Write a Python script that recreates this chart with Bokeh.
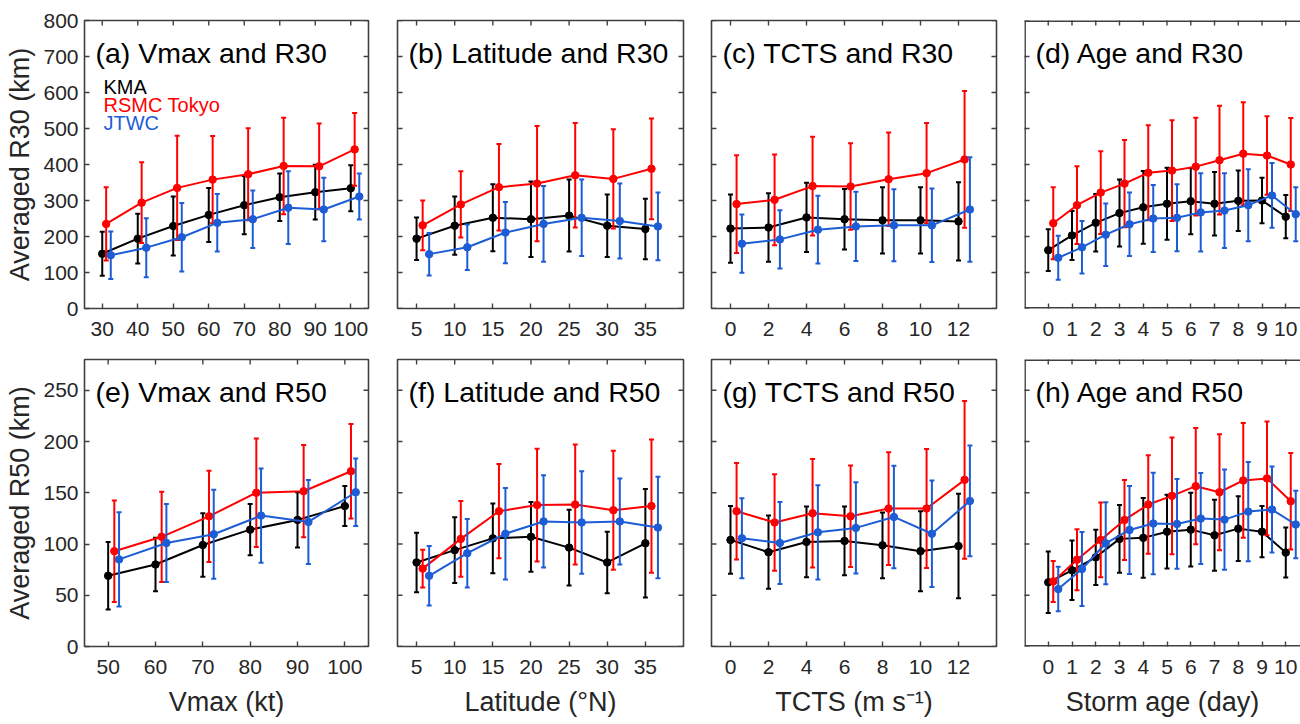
import math
from bokeh.plotting import figure
from bokeh.models import FixedTicker, Label, Range1d, Span
from bokeh.layouts import column, row
from bokeh.embed import file_html
from bokeh.resources import INLINE

# ---------------- data (mean and standard deviation, km) ----------------
series_names = ["KMA", "RSMC Tokyo", "JTWC"]

vmax30_x = [30, 40, 50, 60, 70, 80, 90, 100]
vmax30_kma = [152, 194, 229, 260, 287, 309, 323, 334]
vmax30_kma_sd = [61, 69, 82, 75, 81, 66, 76, 64]
vmax30_rsmc = [235, 294, 335, 358, 373, 396, 395, 442]
vmax30_rsmc_sd = [102, 112, 145, 121, 128, 134, 119, 101]
vmax30_jtwc = [148, 169, 198, 238, 248, 280, 275, 311]
vmax30_jtwc_sd = [66, 82, 95, 80, 80, 101, 88, 64]

lat30_x = [5, 10, 15, 20, 25, 30, 35]
lat30_kma = [194, 230, 252, 248, 258, 230, 221]
lat30_kma_sd = [59, 81, 93, 105, 100, 87, 84]
lat30_rsmc = [231, 289, 337, 347, 370, 360, 388]
lat30_rsmc_sd = [69, 92, 120, 160, 145, 138, 140]
lat30_jtwc = [151, 170, 211, 235, 252, 243, 228]
lat30_jtwc_sd = [59, 63, 85, 105, 106, 104, 94]

tcts30_x = [0, 2, 4, 6, 8, 10, 12]
tcts30_kma = [222, 225, 253, 248, 245, 245, 242]
tcts30_kma_sd = [95, 95, 96, 84, 92, 92, 109]
tcts30_rsmc = [290, 302, 340, 339, 359, 376, 414]
tcts30_rsmc_sd = [136, 126, 137, 120, 130, 139, 190]
tcts30_jtwc = [180, 192, 219, 228, 231, 231, 275]
tcts30_jtwc_sd = [81, 81, 94, 96, 100, 102, 145]

age30_x = [0, 1, 2, 3, 4, 5, 6, 7, 8, 9, 10]
age30_kma = [162, 203, 238, 265, 281, 291, 298, 291, 299, 300, 255]
age30_kma_sd = [58, 68, 80, 93, 101, 100, 92, 88, 84, 63, 60]
age30_rsmc = [237, 287, 322, 347, 377, 383, 394, 412, 430, 425, 400]
age30_rsmc_sd = [100, 108, 115, 121, 132, 140, 136, 151, 143, 109, 129]
age30_jtwc = [141, 170, 205, 234, 250, 252, 267, 272, 287, 314, 262]
age30_jtwc_sd = [61, 73, 87, 88, 93, 93, 109, 104, 100, 90, 75]

vmax50_x = [50, 60, 70, 80, 90, 100]
vmax50_kma = [69, 80, 99, 114, 123.5, 137]
vmax50_kma_sd = [33, 26, 31, 25, 27, 19.5]
vmax50_rsmc = [93, 107, 127, 150, 151.5, 171]
vmax50_rsmc_sd = [49.5, 44, 44.5, 53, 45, 46]
vmax50_jtwc = [85, 101, 109.5, 127.7, 121.5, 150.5]
vmax50_jtwc_sd = [46, 38, 43.5, 46, 41, 33]

lat50_x = [5, 10, 15, 20, 25, 30, 35]
lat50_kma = [82, 94, 105.5, 107, 96.5, 82, 100.7]
lat50_kma_sd = [29, 32, 34, 34, 37, 30, 53]
lat50_rsmc = [76, 105, 132, 138, 138.5, 133, 137]
lat50_rsmc_sd = [18.5, 37, 46, 55, 58.5, 58, 65]
lat50_jtwc = [69, 91, 110, 122, 121, 122, 116]
lat50_jtwc_sd = [29, 33.5, 44.7, 45, 50, 42, 49.5]

tcts50_x = [0, 2, 4, 6, 8, 10, 12]
tcts50_kma = [104, 92, 102, 103, 98.7, 93, 98]
tcts50_kma_sd = [33, 35.7, 34.5, 33.5, 32, 39, 51]
tcts50_rsmc = [132, 121, 130, 127, 134.6, 134.6, 162.6]
tcts50_rsmc_sd = [47, 47, 53, 49.5, 55, 58, 77]
tcts50_jtwc = [105.6, 101, 111.4, 115.7, 126.4, 110, 142]
tcts50_jtwc_sd = [39, 40, 46, 44.6, 50, 52, 54]

age50_x = [0, 1, 2, 3, 4, 5, 6, 7, 8, 9, 10]
age50_kma = [62.6, 74.3, 87, 105, 106, 112, 114, 108.5, 115, 112, 91.6]
age50_kma_sd = [30, 29, 27, 33, 39, 36, 36, 34.6, 31.6, 25, 24.4]
age50_rsmc = [63.5, 84.7, 104, 123.5, 138.5, 147, 156.4, 150.5, 162, 164, 141.7]
age50_rsmc_sd = [20, 29.7, 36.5, 39, 48, 57, 56.7, 56.5, 56, 55.5, 47]
age50_jtwc = [56, 75.6, 100.7, 113.7, 120, 119.6, 124.8, 123.8, 131.6, 133.6, 119]
age50_jtwc_sd = [21.7, 36, 40, 43, 49.5, 43.7, 44.4, 48.9, 48.4, 42, 33]

titles = ["(a) Vmax and R30", "(b) Latitude and R30", "(c) TCTS and R30", "(d) Age and R30",
          "(e) Vmax and R50", "(f) Latitude and R50", "(g) TCTS and R50", "(h) Age and R50"]
x_labels = ["Vmax (kt)", "Latitude (\u00b0N)", "TCTS (m s\u207b\u00b9)", "Storm age (day)"]
y_labels = ["Averaged R30 (km)", "Averaged R50 (km)"]

# ---------------- style ----------------
FONT = "Liberation Sans"
AX_COL = "#404040"
TXT_COL = "#262626"
COLORS = ["#000000", "#ff0000", "#1c5dd6"]

# column geometry: (left border, frame width, right border)
col_geom = [(84, 284, 10), (19, 286, 10), (18, 285, 10), (18, 276, 0)]
# row geometry: (top border, frame height, bottom border)
row_geom = [(20, 288, 38), (13, 287, 78)]

xlims = [[(25, 105), (2.5, 40), (-1, 14), (-1, 10.62)],
         [(45, 105), (2.5, 40), (-1, 14), (-1, 10.62)]]
ylims = [(0, 800), (0, 280)]
yticks = [list(range(0, 801, 100)), list(range(0, 251, 50))]
xticks = [[vmax30_x, lat30_x, tcts30_x, age30_x],
          [vmax50_x, lat50_x, tcts50_x, age50_x]]
offsets = [[(0, 1.1, 2.4), (0, 0.8, 1.65), (0, 0.32, 0.6), (0, 0.21, 0.42)],
           [(0, 1.3, 2.3), (0, 0.8, 1.65), (0, 0.32, 0.6), (0, 0.21, 0.42)]]

panel_data = [
    [(vmax30_x, [(vmax30_kma, vmax30_kma_sd), (vmax30_rsmc, vmax30_rsmc_sd), (vmax30_jtwc, vmax30_jtwc_sd)]),
     (lat30_x, [(lat30_kma, lat30_kma_sd), (lat30_rsmc, lat30_rsmc_sd), (lat30_jtwc, lat30_jtwc_sd)]),
     (tcts30_x, [(tcts30_kma, tcts30_kma_sd), (tcts30_rsmc, tcts30_rsmc_sd), (tcts30_jtwc, tcts30_jtwc_sd)]),
     (age30_x, [(age30_kma, age30_kma_sd), (age30_rsmc, age30_rsmc_sd), (age30_jtwc, age30_jtwc_sd)])],
    [(vmax50_x, [(vmax50_kma, vmax50_kma_sd), (vmax50_rsmc, vmax50_rsmc_sd), (vmax50_jtwc, vmax50_jtwc_sd)]),
     (lat50_x, [(lat50_kma, lat50_kma_sd), (lat50_rsmc, lat50_rsmc_sd), (lat50_jtwc, lat50_jtwc_sd)]),
     (tcts50_x, [(tcts50_kma, tcts50_kma_sd), (tcts50_rsmc, tcts50_rsmc_sd), (tcts50_jtwc, tcts50_jtwc_sd)]),
     (age50_x, [(age50_kma, age50_kma_sd), (age50_rsmc, age50_rsmc_sd), (age50_jtwc, age50_jtwc_sd)])],
]


def style_axis(ax, ticks, standoff):
    ax.ticker = FixedTicker(ticks=ticks)
    ax.major_tick_in = 5
    ax.major_tick_out = 0
    ax.minor_tick_in = 0
    ax.minor_tick_out = 0
    ax.axis_line_color = None
    ax.major_tick_line_color = AX_COL
    ax.major_tick_line_width = 1.4
    ax.major_label_text_font = FONT
    ax.major_label_text_font_size = "21px"
    ax.major_label_text_color = TXT_COL
    ax.major_label_standoff = standoff


def inner_ticks(p, xs, ys, vertical):
    # tick marks on the unlabelled sides of the box (half is clipped by the frame)
    p.scatter(x=xs, y=ys, marker="dash", size=10, angle=math.pi / 2 if vertical else 0,
              line_color=AX_COL, line_width=1.4)


def add_text(p, fw, fh, dx, dy, text, color, size):
    x0, x1 = p.x_range.start, p.x_range.end
    y0, y1 = p.y_range.start, p.y_range.end
    p.add_layout(Label(x=x0 + dx / fw * (x1 - x0), y=y1 - dy / fh * (y1 - y0),
                       text=text, text_color=color, text_font=FONT, text_font_size=size,
                       text_align="left", text_baseline="middle"))


rows = []
for r in range(2):
    figs = []
    bt, fh, bb = row_geom[r]
    for c in range(4):
        bl, fw, br = col_geom[c]
        x0, x1 = xlims[r][c]
        y0, y1 = ylims[r]
        p = figure(width=bl + fw + br, height=bt + fh + bb,
                   x_range=Range1d(x0, x1), y_range=Range1d(y0, y1),
                   output_backend="svg", toolbar_location=None,
                   min_border_left=bl, min_border_right=br,
                   min_border_top=bt, min_border_bottom=bb)
        p.grid.visible = False
        p.background_fill_color = "white"
        p.border_fill_color = "white"
        if br > 0:
            p.outline_line_color = AX_COL
            p.outline_line_width = 1.6
        else:
            # the right edge of the last column lies outside the picture: box open on the right
            p.outline_line_color = None
            px = (x1 - x0) / fw
            py = (y1 - y0) / fh
            for loc, dim in ((x0 + 0.5 * px, "height"), (y1 - 0.5 * py, "width"), (y0 + 0.5 * py, "width")):
                p.add_layout(Span(location=loc, dimension=dim, line_color=AX_COL, line_width=1.8))

        style_axis(p.xaxis[0], xticks[r][c], 13)
        if r == 1:
            p.xaxis[0].axis_label = x_labels[c]
            p.xaxis[0].axis_label_text_font = FONT
            p.xaxis[0].axis_label_text_font_size = "27px"
            p.xaxis[0].axis_label_text_font_style = "normal"
            p.xaxis[0].axis_label_text_color = TXT_COL
            p.xaxis[0].axis_label_standoff = 10
        if c == 0:
            style_axis(p.yaxis[0], yticks[r], 6)
            p.yaxis[0].axis_label = y_labels[r]
            p.yaxis[0].axis_label_text_font = FONT
            p.yaxis[0].axis_label_text_font_size = "27px"
            p.yaxis[0].axis_label_text_font_style = "normal"
            p.yaxis[0].axis_label_text_color = TXT_COL
            p.yaxis[0].axis_label_standoff = 5
        else:
            p.yaxis.visible = False
            inner_ticks(p, [x0] * len(yticks[r]), yticks[r], False)

        # ticks on top and right sides of the box
        inner_ticks(p, xticks[r][c], [y1] * len(xticks[r][c]), True)
        if br > 0:
            inner_ticks(p, [x1] * len(yticks[r]), yticks[r], False)

        xs, series = panel_data[r][c]
        for k, (mean, sd) in enumerate(series):
            off = offsets[r][c][k]
            xx = [x + off for x in xs]
            lo = [m - s for m, s in zip(mean, sd)]
            hi = [m + s for m, s in zip(mean, sd)]
            col = COLORS[k]
            p.segment(x0=xx, y0=lo, x1=xx, y1=hi, line_color=col, line_width=2)
            p.scatter(x=xx + xx, y=lo + hi, marker="dash", size=5, line_color=col, line_width=2)
            p.line(x=xx, y=mean, line_color=col, line_width=2)
            p.scatter(x=xx, y=mean, marker="circle", size=7.5, fill_color=col, line_color=col)

        add_text(p, fw, fh, 11, 32, titles[r * 4 + c], "#000000", "28.5px")
        if r == 0 and c == 0:
            for k, name in enumerate(series_names):
                add_text(p, fw, fh, 19, 66 + 18.3 * k, name, COLORS[k], "20px")
        figs.append(p)
    rows.append(row(*figs))

layout = column(*rows)
open("out.html", "w").write(file_html(layout, INLINE))
